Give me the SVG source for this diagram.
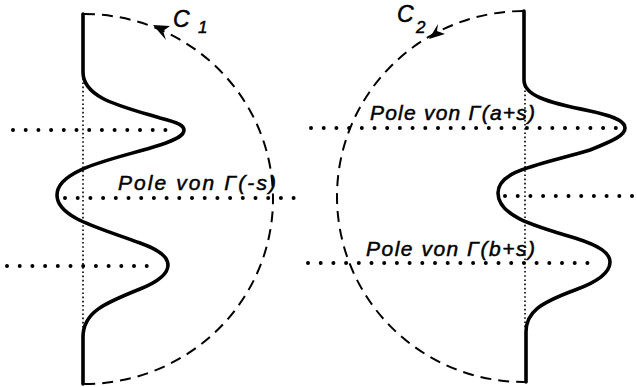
<svg xmlns="http://www.w3.org/2000/svg" width="637" height="387" viewBox="0 0 637 387">
<style>
.bg{fill:#ffffff}
.contour{fill:none;stroke:#000;stroke-width:3.6;stroke-linejoin:round;stroke-linecap:round}
.arc{fill:none;stroke:#000;stroke-width:2;stroke-dasharray:11 7}
.poles{fill:none;stroke:#000;stroke-width:4;stroke-linecap:round;stroke-dasharray:0 12.7}
.axis{fill:none;stroke:#000;stroke-width:1.6;stroke-dasharray:1.6 2.6}
.lbl{font-family:"Liberation Sans","DejaVu Sans",sans-serif;font-style:italic;font-size:21px;fill:#000;stroke:#000;stroke-width:0.5}
.c{font-family:"Liberation Sans","DejaVu Sans",sans-serif;font-style:italic;font-size:23px;fill:#000;stroke:#000;stroke-width:0.5}
.sub{font-size:17px}
.head{fill:#000}
</style>
<rect class="bg" x="0" y="0" width="637" height="387"/>
<g id="connectors">
  <line class="axis" x1="83" y1="74" x2="83" y2="334"/>
  <line class="axis" x1="525" y1="82" x2="525" y2="330"/>
  <line class="poles" x1="13" y1="130" x2="175" y2="130"/>
  <line class="poles" x1="65" y1="198" x2="298" y2="198"/>
  <line class="poles" x1="7" y1="266" x2="158" y2="266"/>
  <line class="poles" x1="311" y1="128" x2="618" y2="128"/>
  <line class="poles" x1="505" y1="196" x2="640" y2="196"/>
  <line class="poles" x1="308" y1="263" x2="600" y2="263"/>
</g>
<g id="contour-c1">
  <path class="contour" d="M83 14 L83 72 C83 98 120 106 160 118 C180 123 184 126 184 130 C184 135 178 139 160 145 C120 158 57 168 57 195 C57 218 100 228 140 243 C160 250 168 257 168 265 C168 273 160 281 140 289 C105 303 83 312 83 337 L83 384"/>
  <path class="arc" d="M84 14 A189 185 0 0 1 84 384"/>
  <polygon class="head" points="153,25 170,26 163,31 166,40"/>
  <text class="c" x="173" y="27">C<tspan class="sub" x="198" y="33">1</tspan></text>
</g>
<g id="contour-c2">
  <path class="contour" d="M524 11 L524 80 C524 95 545 102 590 111 C618 117 625 122 625 128 C625 135 615 140 590 150 C540 165 498 170 498 193 C498 215 530 225 575 238 C600 246 610 253 610 262 C610 271 600 281 575 290 C540 303 526 312 526 332 L526 382"/>
  <path class="arc" d="M523 11 A187 185.5 0 0 0 525 382"/>
  <polygon class="head" points="429,39 438,24 437,31 445,34"/>
  <text class="c" x="397" y="22">C<tspan class="sub" x="416" y="33">2</tspan></text>
</g>
<g id="label-gamma-minus-s">
  <text class="lbl" x="118" y="190" textLength="158" lengthAdjust="spacing">Pole von Γ(-s)</text>
</g>
<g id="label-gamma-a-plus-s">
  <text class="lbl" x="370" y="120" textLength="165" lengthAdjust="spacing">Pole von Γ(a+s)</text>
</g>
<g id="label-gamma-b-plus-s">
  <text class="lbl" x="366" y="256" textLength="169" lengthAdjust="spacing">Pole von Γ(b+s)</text>
</g>
</svg>
